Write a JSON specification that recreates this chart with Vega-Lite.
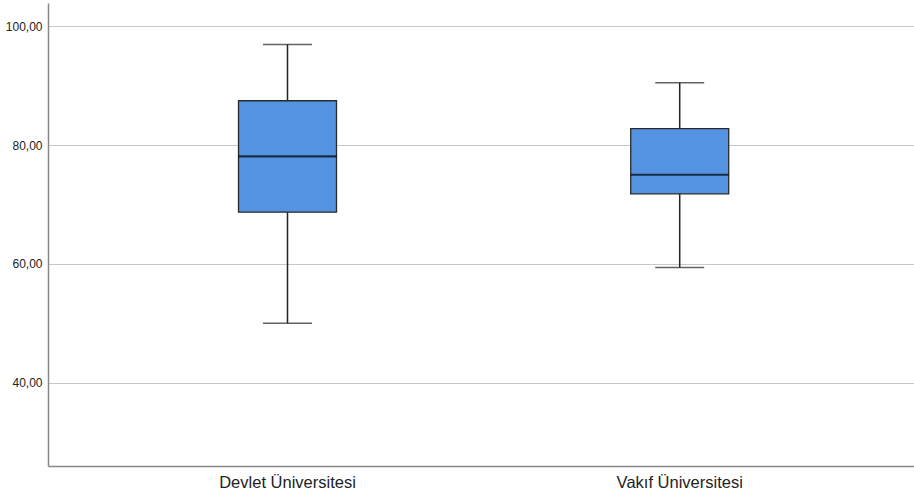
{
  "$schema": "https://vega.github.io/schema/vega-lite/v6.json",
  "width": 866,
  "height": 463,
  "autosize": {"type": "none"},
  "padding": {"left": 48, "top": 3, "right": 0, "bottom": 31},
  "background": "white",
  "config": {
    "view": {"stroke": null},
    "font": "Liberation Sans"
  },
  "data": {
    "values": [
      {"group": "Devlet Üniversitesi", "lower": 50.0, "q1": 68.7, "median": 78.1, "q3": 87.45, "upper": 96.9},
      {"group": "Vakıf Üniversitesi", "lower": 59.4, "q1": 71.8, "median": 75.0, "q3": 82.75, "upper": 90.5}
    ]
  },
  "encoding": {
    "x": {
      "field": "group",
      "type": "nominal",
      "sort": null,
      "scale": {"paddingInner": 0, "paddingOuter": 0.104, "align": 0.532},
      "axis": {
        "title": null,
        "labelAngle": 0,
        "ticks": false,
        "domainColor": "#888888",
        "domainWidth": 1.5,
        "labelFontSize": 16.5,
        "labelColor": "#222222",
        "labelPadding": 8,
        "grid": false
      }
    }
  },
  "layer": [
    {
      "mark": {"type": "rule", "color": "#222222", "strokeWidth": 1.5},
      "encoding": {
        "y": {
          "field": "lower",
          "type": "quantitative",
          "scale": {"domain": [26, 103.9], "nice": false, "zero": false},
          "axis": {
            "title": null,
            "values": [40, 60, 80, 100],
            "ticks": false,
            "labelExpr": "replace(format(datum.value, '.2f'), '.', ',')",
            "labelFontSize": 12,
            "labelColor": "#222222",
            "labelPadding": 6,
            "domainColor": "#888888",
            "domainWidth": 1.5,
            "grid": true,
            "gridColor": "#c8c8c8",
            "gridWidth": 1
          }
        },
        "y2": {"field": "upper"}
      }
    },
    {
      "mark": {"type": "bar", "size": 98, "fill": "#5492e2", "stroke": "#2a2a2a", "strokeWidth": 1.3},
      "encoding": {
        "y": {"field": "q1", "type": "quantitative"},
        "y2": {"field": "q3"}
      }
    },
    {
      "mark": {"type": "tick", "size": 98, "color": "#000000", "thickness": 2.2},
      "encoding": {"y": {"field": "median", "type": "quantitative"}}
    },
    {
      "mark": {"type": "tick", "size": 49, "color": "#222222", "thickness": 1.5},
      "encoding": {"y": {"field": "lower", "type": "quantitative"}}
    },
    {
      "mark": {"type": "tick", "size": 49, "color": "#222222", "thickness": 1.5},
      "encoding": {"y": {"field": "upper", "type": "quantitative"}}
    }
  ]
}
